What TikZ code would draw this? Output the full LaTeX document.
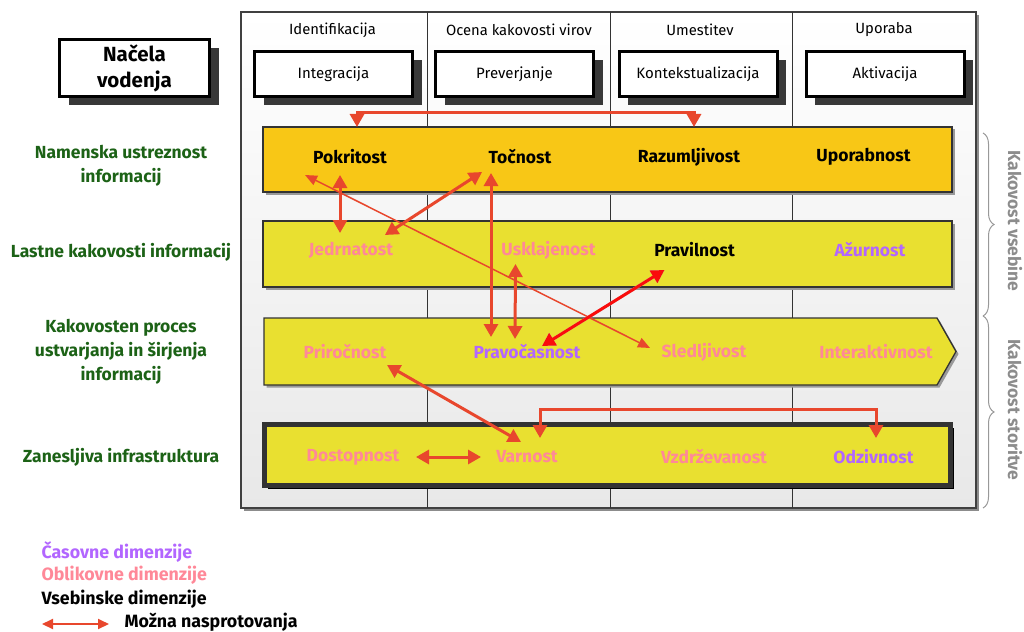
\documentclass[tikz,border=0pt]{standalone}
\usepackage{fontspec}
\setmainfont{Fira Sans}
\usetikzlibrary{arrows.meta,calc,shadows,decorations.pathreplacing}
\definecolor{conred}{RGB}{232,71,45}
\definecolor{hotred}{RGB}{250,12,12}
\definecolor{bandorange}{RGB}{248,199,22}
\definecolor{bandyellow}{RGB}{233,224,48}
\definecolor{pillargreen}{RGB}{28,98,22}
\definecolor{dimpink}{RGB}{255,136,152}
\definecolor{dimpurple}{RGB}{178,102,255}
\tikzset{
  panel/.style={draw=black!75, line width=1.2pt, top color=white, bottom color=black!9,
                drop shadow={shadow xshift=3pt, shadow yshift=-3pt, fill=black!45, opacity=1}},
  divider/.style={draw=black!80, line width=1pt},
  phase/.style={font=\fontsize{14.8}{16}\selectfont},
  activity/.style={rectangle, draw=black, line width=3pt, fill=white,
                   minimum width=158pt, minimum height=45pt, font=\fontsize{15}{16}\selectfont,
                   drop shadow={shadow xshift=9pt, shadow yshift=-9pt, fill=black!78, opacity=1}},
  principle/.style={activity, minimum width=150pt, minimum height=57pt, align=center,
                    font=\fontsize{20.5}{26}\selectfont\bfseries},
  bandtop/.style={draw=black!80, line width=1.3pt, fill=bandorange,
                  drop shadow={shadow xshift=2.5pt, shadow yshift=-2.5pt, fill=black!40, opacity=1}},
  band/.style={bandtop, fill=bandyellow},
  dimension/.style={font=\fontsize{17.5}{19}\selectfont\bfseries},
  pillar/.style={align=center, text=pillargreen, font=\fontsize{17.5}{24}\selectfont\bfseries},
  legend/.style={anchor=west, font=\fontsize{17.8}{19}\selectfont\bfseries},
  conflict/.style={{Triangle[length=13pt,width=14pt]}-{Triangle[length=13pt,width=14pt]},
                   line width=3pt, draw=conred},
  thinconflict/.style={{Triangle[length=12pt,width=10pt]}-{Triangle[length=12pt,width=10pt]},
                       line width=1.5pt, draw=conred},
  sidebrace/.style={decorate, decoration={brace, amplitude=11pt}, draw=black!40, line width=1pt},
  sidelabel/.style={rotate=-90, text=black!45, font=\fontsize{17.5}{19}\selectfont\bfseries}
}
\begin{document}
\begin{tikzpicture}[x=1pt, y=-1pt, font=\fontsize{12}{14}\selectfont]
\useasboundingbox (0,0) rectangle (1024,631);
% framework panel
\path[panel] (241,12) rectangle (976,508);
\foreach \x in {427,610,792}
  \draw[divider] (\x,12) -- (\x,508);
\foreach \hx/\bx/\pname/\aname/\phasetxt/\acttxt in {
  332.5/333.5/ident/integ/Identifikacija/Integracija,
  519/514.5/ocena/prev/Ocena kakovosti virov/Preverjanje,
  700/698/umest/kont/Umestitev/Kontekstualizacija,
  884/885/upor/aktiv/Uporaba/Aktivacija}{
    \node[phase] (\pname) at (\hx,30) {\phasetxt};
    \node[activity] (\aname) at (\bx,74) {\acttxt};
}
\node[principle] (nacela) at (134.5,68) {Načela\\vodenja};
% bands
\path[bandtop] (263,127) rectangle (952,192);
\path[band] (263,221) rectangle (952,287);
\path[band] (264,318) -- (937,318) -- (956,351.5) -- (937,385) -- (264,385) -- cycle;
\path[band, line width=5pt, drop shadow={shadow xshift=3pt, shadow yshift=-3pt, fill=black, opacity=1}]
  (264.5,424.5) rectangle (950.5,485.5);
\foreach \name/\x/\y/\col/\txt in {
  pok/350/157/black/Pokritost, toc/520/157/black/Točnost,
  raz/689/157/black/Razumljivost, upo/863.5/157/black/Uporabnost,
  jed/351/250/dimpink/Jedrnatost, usk/548.5/250/dimpink/Usklajenost,
  pra/694.5/250/black/Pravilnost, azu/870/250/dimpurple/Ažurnost,
  pri/345/352/dimpink/Priročnost, prc/527/352/dimpurple/Pravočasnost,
  sle/704/352/dimpink/Sledljivost, inta/876/352/dimpink/Interaktivnost,
  dos/353/457/dimpink/Dostopnost, var/527/457/dimpink/Varnost,
  vzd/714/457/dimpink/Vzdrževanost, odz/873.5/457/dimpurple/Odzivnost}
  \node[dimension, text=\col] (\name) at (\x,\y) {\txt};
% pillars
\node[pillar] (namen) at (121,165.5) {Namenska ustreznost\\informacij};
\node[pillar] (lastne) at (121,252) {Lastne kakovosti informacij};
\node[pillar] (proces) at (121,352) {Kakovosten proces\\ustvarjanja in širjenja\\informacij};
\node[pillar] (infra) at (121,457) {Zanesljiva infrastruktura};
% braces
\coordinate (bt) at (983,133);
\coordinate (bm) at (983,316);
\coordinate (bb) at (983,508);
\draw[sidebrace] (bt) -- (bm);
\draw[sidebrace] (bm) -- (bb);
\node[sidelabel] (vsebine) at (1015,221) {Kakovost vsebine};
\node[sidelabel] (storitve) at (1015,410) {Kakovost storitve};
% trade-offs
\coordinate (topbar) at ($(pok)+(7,-44)$);
\draw[conflict] ($(pok)+(7,-30)$) -- (topbar) -| ($(raz)+(5,-30)$);
\draw[thinconflict] ($(pok)+(-45,18)$) -- ($(sle)+(-54,-4)$);
\draw[conflict] ($(pok)+(-10,18)$) -- ($(jed)+(-11,-17)$);
\draw[conflict] ($(jed)+(34,-15)$) -- ($(toc)+(-38,15)$);
\draw[conflict] ($(toc)+(-29,16)$) -- ($(prc)+(-36,-15)$);
\draw[conflict] ($(usk)+(-33,14)$) -- ($(prc)+(-12,-13)$);
\draw[conflict, draw=black!25, xshift=2pt, yshift=-3pt] ($(pra)+(-30,20)$) -- ($(prc)+(15,-6)$);
\draw[conflict, draw=hotred] ($(pra)+(-30,20)$) -- ($(prc)+(15,-6)$);
\draw[conflict] ($(pri)+(42,13)$) -- ($(var)+(-6,-15)$);
\draw[conflict] ($(dos)+(63,0)$) -- ($(var)+(-46,0)$);
\coordinate (lowbar) at ($(var)+(13,-48)$);
\draw[conflict] ($(var)+(13,-19)$) -- (lowbar) -| ($(odz)+(2.5,-19)$);
% legend
\node[legend, text=dimpurple] (casovne) at (38,552) {Časovne dimenzije};
\node[legend, text=dimpink] (oblikovne) at (38,575.5) {Oblikovne dimenzije};
\node[legend] (vsebinske) at (38,599) {Vsebinske dimenzije};
\node[legend] (mozna) at (121,622) {Možna nasprotovanja};
\coordinate (legstart) at (42,624);
\draw[conflict, line width=2pt, {Triangle[length=11pt,width=10pt]}-{Triangle[length=11pt,width=10pt]}]
  (legstart) -- ($(mozna.west)+(-12,2)$);
\end{tikzpicture}
\end{document}
